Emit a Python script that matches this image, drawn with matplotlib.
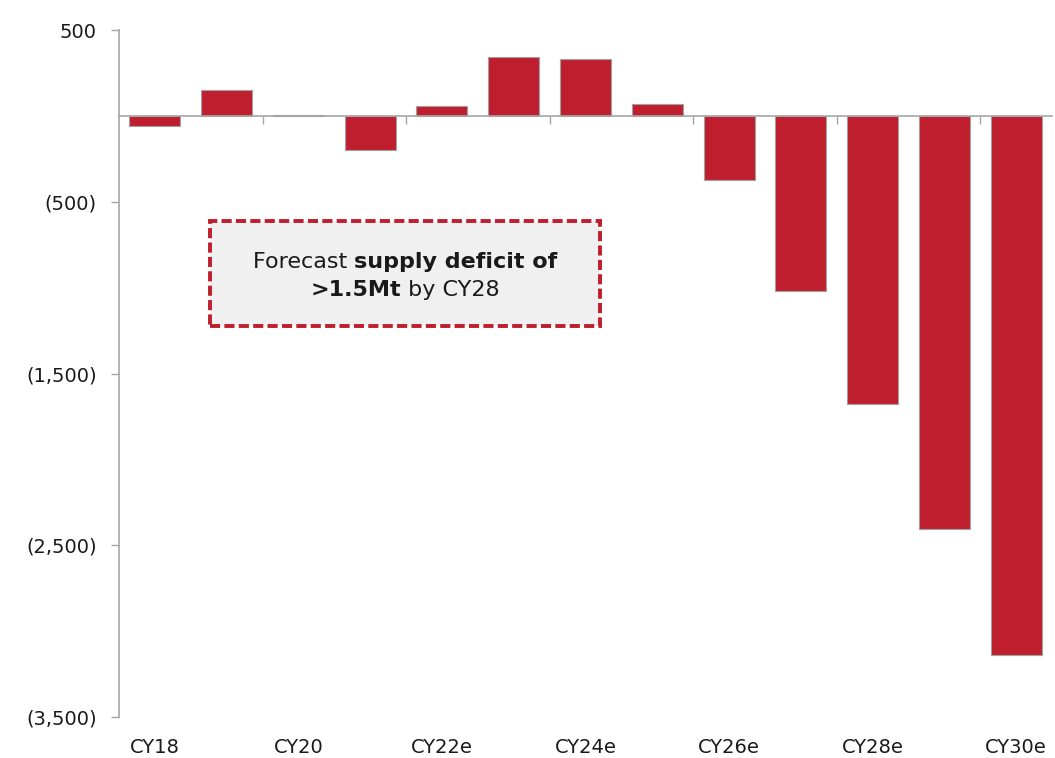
import matplotlib
matplotlib.use("Agg")
import matplotlib.pyplot as plt
import numpy as np
from matplotlib.patches import Rectangle
from matplotlib.ticker import FuncFormatter
from matplotlib.transforms import offset_copy

years = ["CY18", "CY19", "CY20", "CY21", "CY22e", "CY23e", "CY24e",
         "CY25e", "CY26e", "CY27e", "CY28e", "CY29e", "CY30e"]
balance_kt = [-60, 150, 5, -200, 55, 345, 330, 70, -375, -1020, -1675, -2405, -3140]
y_ticks = [500, -500, -1500, -2500, -3500]

callout_lines = [
    [("Forecast ", "normal"), ("supply deficit of", "bold")],
    [(">1.5Mt", "bold"), (" by CY28", "normal")],
]

RED = "#BE1E2D"
AXIS_GREY = "#a6a6a6"
TEXT = "#1a1a1a"

plt.rcParams["font.family"] = "DejaVu Sans"


def paren_fmt(v, _pos):
    if v < 0:
        return f"({abs(v):,.0f})"
    return f"{v:,.0f}"


fig = plt.figure(figsize=(10.55, 7.58), dpi=100)
ax = fig.add_axes([119 / 1055, 1 - 717 / 758, 933 / 1055, 687 / 758])

x = np.arange(len(years))
ax.bar(x, balance_kt, width=0.71, color=RED, edgecolor="#a0a0a0",
       linewidth=0.8, zorder=2)

ax.set_xlim(-0.5, len(years) - 0.5)
ax.set_ylim(-3500, 500)
ax.set_yticks(y_ticks)
ax.yaxis.set_major_formatter(FuncFormatter(paren_fmt))
ax.tick_params(axis="y", length=6, width=1, color=AXIS_GREY, pad=10,
               labelsize=14, labelcolor=TEXT)

# zero line carries the between-category tick marks
ax.spines["bottom"].set_position(("data", 0))
ax.spines["bottom"].set_color(AXIS_GREY)
ax.spines["bottom"].set_linewidth(1.2)
ax.spines["bottom"].set_zorder(3)
ax.set_xticks(x[1:-1:2] + 0.5)
ax.tick_params(axis="x", length=6, width=1, color=AXIS_GREY, labelbottom=False)
ax.spines["left"].set_color(AXIS_GREY)
ax.spines["left"].set_linewidth(1.2)
ax.spines["top"].set_visible(False)
ax.spines["right"].set_visible(False)

# category labels along the bottom of the plot area
sec = ax.secondary_xaxis(0.0)
sec.set_xticks(x[::2])
sec.set_xticklabels(years[::2])
sec.tick_params(length=0, pad=15, labelsize=14, labelcolor=TEXT)
sec.spines["bottom"].set_visible(False)

# callout box
bx, by, bw, bh = 0.0975, 0.569, 0.418, 0.153
ax.add_patch(Rectangle((bx, by), bw, bh, transform=ax.transAxes,
                       facecolor="#f0f0f0", edgecolor=RED, linewidth=2.8,
                       linestyle=(0, (2.6, 1.1)), zorder=4))

renderer = fig.canvas.get_renderer()
cx, cy = bx + bw / 2, by + bh / 2
line_gap = 28  # px between baselines
for li, pieces in enumerate(callout_lines):
    widths = []
    for s, w in pieces:
        t = ax.text(0, 0, s, fontsize=16, fontweight=w)
        widths.append(t.get_window_extent(renderer).width)
        t.remove()
    x_off = -sum(widths) / 2
    y_off = (0.5 - li) * line_gap
    for (s, w), wd in zip(pieces, widths):
        tr = offset_copy(ax.transAxes, fig=fig, x=x_off * 72 / fig.dpi,
                         y=y_off * 72 / fig.dpi, units="points")
        ax.text(cx, cy, s, transform=tr, ha="left", va="center_baseline",
                fontsize=16, fontweight=w, color=TEXT, zorder=5)
        x_off += wd

fig.savefig("out.png", dpi=100)
